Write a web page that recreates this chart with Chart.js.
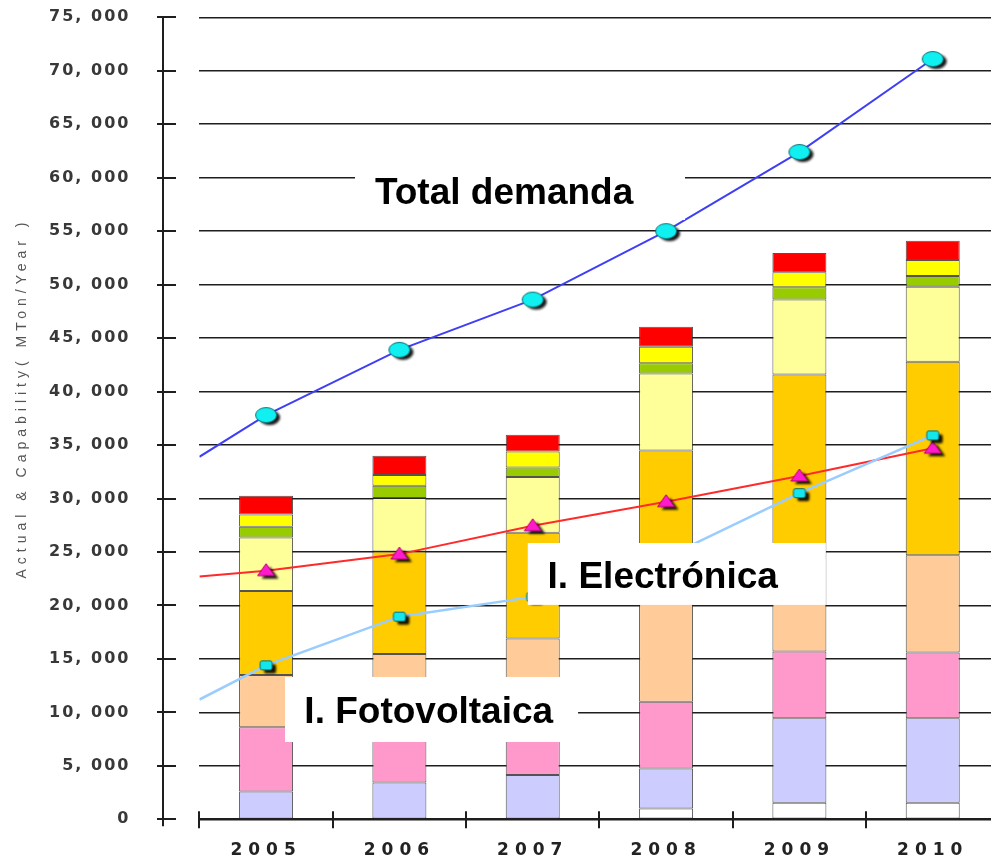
<!DOCTYPE html>
<html>
<head>
<meta charset="utf-8">
<script src="https://cdn.jsdelivr.net/npm/chart.js@4.4.0/dist/chart.umd.min.js"></script>
<style>
  html, body { margin: 0; padding: 0; background: #fff; overflow: hidden; }
  #wrap { width: 991px; height: 857px; overflow: hidden; position: relative; }
  canvas { display: block; }
</style>
</head>
<body>
<div id="wrap"><canvas id="chart" width="1010" height="857"></canvas></div>
<script>
// ---- data ---------------------------------------------------------------
const years = [2005, 2006, 2007, 2008, 2009, 2010];
const yTickValues = [0, 5000, 10000, 15000, 20000, 25000, 30000, 35000,
                     40000, 45000, 50000, 55000, 60000, 65000, 70000, 75000];

// stacked capability segments, bottom to top (MTon/Year)
const segWhite       = [0, 0, 0, 1000, 1550, 1550];
const segLavender    = [2600, 3450, 4150, 3750, 7900, 7900];
const segPink        = [6000, 5750, 5650, 6250, 6250, 6150];
const segPeach       = [4900, 6250, 7100, 12500, 8800, 9100];
const segGold        = [7850, 9600, 9900, 11000, 17100, 18100];
const segLightYellow = [5000, 5000, 5200, 7200, 7000, 7000];
const segGreen       = [1000, 1150, 900, 950, 1150, 1000];
const segYellow      = [1150, 1000, 1500, 1550, 1400, 1500];
const segRed         = [1750, 1800, 1550, 1850, 1800, 1800];

// demand lines; the first entry is where each line enters at the left edge
const lineYears    = [2004.5, 2005, 2006, 2007, 2008, 2009, 2010];
const totalDemand  = [33900, 37800, 43900, 48600, 55000, 62400, 71100];
const electronica  = [22700, 23250, 24800, 27450, 29700, 32100, 34700];
const fotovoltaica = [11200, 14400, 18950, 20800, 24500, 30500, 35900];

const seriesLabels = ['Total demanda', 'I. Electrónica', 'I. Fotovoltaica'];
const axisTitle = 'Actual & Capability( MTon/Year )';

// ---- labelled boxes (in axis units: years / MTon) -------------------------
const callouts = [
  { text: seriesLabels[0], box: [2005.667, 2008.142, 61190, 56050], at: [2006.785, 58500] },
  { text: seriesLabels[1], box: [2006.963, 2009.198, 25840, 20050], at: [2007.975, 22550] },
  { text: seriesLabels[2], box: [2005.142, 2007.340, 13310, 7230],  at: [2006.220, 9950] }
];

// ---- point markers ------------------------------------------------------
function markerCanvas(w, h, draw) {
  const c = document.createElement('canvas');
  c.width = w; c.height = h;
  draw(c.getContext('2d'), w / 2, h / 2);
  return c;
}
const markEllipse = markerCanvas(38, 30, (g, cx, cy) => {
  g.filter = 'blur(1px)';
  g.fillStyle = 'rgba(0,0,0,0.9)';
  g.beginPath(); g.ellipse(cx + 3.5, cy + 2.5, 10.5, 7.5, 0, 0, Math.PI * 2); g.fill();
  g.filter = 'none';
  g.fillStyle = '#10f0f0'; g.strokeStyle = '#0b6f74'; g.lineWidth = 1;
  g.beginPath(); g.ellipse(cx, cy, 10.5, 7.5, 0, 0, Math.PI * 2); g.fill(); g.stroke();
});
const markTriangle = markerCanvas(30, 26, (g, cx, cy) => {
  const tri = (dx, dy) => {
    g.beginPath();
    g.moveTo(cx + dx, cy - 7 + dy);
    g.lineTo(cx + 8.5 + dx, cy + 5 + dy);
    g.lineTo(cx - 8.5 + dx, cy + 5 + dy);
    g.closePath();
  };
  g.filter = 'blur(0.8px)';
  g.fillStyle = 'rgba(0,0,0,0.9)'; tri(4, 3); g.fill();
  g.filter = 'none';
  g.fillStyle = '#ff1acb'; g.strokeStyle = '#b0006a'; g.lineWidth = 1;
  tri(0, 0); g.fill(); g.stroke();
});
const markSquare = markerCanvas(26, 22, (g, cx, cy) => {
  g.filter = 'blur(0.8px)';
  g.fillStyle = 'rgba(0,0,0,0.9)';
  g.beginPath(); g.roundRect(cx - 6 + 4, cy - 4.5 + 3.5, 12, 9, 2); g.fill();
  g.filter = 'none';
  g.fillStyle = '#14e6ee'; g.strokeStyle = '#0b6f74'; g.lineWidth = 1;
  g.beginPath(); g.roundRect(cx - 6, cy - 4.5, 12, 9, 2); g.fill(); g.stroke();
});

// ---- helpers ------------------------------------------------------------
function barSet(label, values, color) {
  return {
    type: 'bar', label, order: 2,
    data: years.map((yr, i) => ({ x: yr, y: values[i] })),
    backgroundColor: color,
    borderColor: 'rgba(40,40,40,0.8)',
    borderWidth: 1,
    borderSkipped: false,
    barPercentage: 0.405,
    categoryPercentage: 1
  };
}
function lineSet(label, values, color, marker, width) {
  return {
    type: 'line', label, order: 1, stack: label,
    data: lineYears.map((yr, i) => ({ x: yr, y: values[i] })),
    borderColor: color,
    borderWidth: width,
    tension: 0,
    pointStyle: marker,
    pointRadius: (c) => (c.dataIndex === 0 ? 0 : 8),
    fill: false
  };
}
function fmtTick(v) {
  if (v === 0) return '0';
  return Math.floor(v / 1000) + ', ' + String(v % 1000).padStart(3, '0');
}

// ---- axis decorations, callouts and spacing of tick text ----------------
const decor = {
  id: 'decor',
  beforeDraw(chart) {
    chart.ctx.letterSpacing = '6px';           // year labels
  },
  beforeDatasetsDraw(chart) {
    chart.ctx.letterSpacing = '0px';
  },
  afterDatasetsDraw(chart) {
    const { ctx, scales: { x, y } } = chart;
    ctx.save();
    ctx.letterSpacing = '0px';
    callouts.forEach((a) => {
      const l = x.getPixelForValue(a.box[0]), r = x.getPixelForValue(a.box[1]);
      const t = y.getPixelForValue(a.box[2]), b = y.getPixelForValue(a.box[3]);
      ctx.fillStyle = '#ffffff';
      ctx.fillRect(l, t, r - l, b - t);
      ctx.fillStyle = '#000000';
      ctx.font = 'bold 37px "Liberation Sans", Arial, sans-serif';
      ctx.textAlign = 'center';
      ctx.textBaseline = 'middle';
      ctx.fillText(a.text, x.getPixelForValue(a.at[0]), y.getPixelForValue(a.at[1]));
    });
    ctx.restore();
    ctx.letterSpacing = '2px';                 // value labels drawn next
  },
  afterDraw(chart) {
    const { ctx, scales: { x, y } } = chart;
    ctx.save();
    ctx.letterSpacing = '0px';
    ctx.strokeStyle = '#1e1e1e';
    ctx.lineWidth = 2;
    // detached value axis with crossing ticks
    const ax = 163;
    ctx.beginPath();
    ctx.moveTo(ax, y.getPixelForValue(75000));
    ctx.lineTo(ax, y.getPixelForValue(0) + 7);
    ctx.stroke();
    yTickValues.forEach((v) => {
      const py = Math.round(y.getPixelForValue(v));
      ctx.beginPath(); ctx.moveTo(ax - 6, py); ctx.lineTo(ax + 13, py); ctx.stroke();
    });
    // category boundary ticks on the year axis
    const base = y.getPixelForValue(0);
    for (let i = 0; i <= years.length; i++) {
      const px = Math.round(x.getPixelForValue(years[0] - 0.5 + i));
      ctx.beginPath(); ctx.moveTo(px, base - 8); ctx.lineTo(px, base + 9); ctx.stroke();
    }
    // rotated axis title
    ctx.translate(22, 398);
    ctx.rotate(-Math.PI / 2);
    ctx.fillStyle = '#555';
    ctx.font = '14px "Liberation Sans", Arial, sans-serif';
    ctx.letterSpacing = '5px';
    ctx.textAlign = 'center';
    ctx.textBaseline = 'middle';
    ctx.fillText(axisTitle, 0, 0);
    ctx.restore();
  }
};

// ---- chart --------------------------------------------------------------
new Chart(document.getElementById('chart'), {
  data: {
    datasets: [
      barSet('white', segWhite, '#ffffff'),
      barSet('lavender', segLavender, '#ccccff'),
      barSet('pink', segPink, '#ff99cc'),
      barSet('peach', segPeach, '#ffcc99'),
      barSet('gold', segGold, '#ffcc00'),
      barSet('light yellow', segLightYellow, '#ffff99'),
      barSet('green', segGreen, '#99cc00'),
      barSet('yellow', segYellow, '#ffff00'),
      barSet('red', segRed, '#ff0000'),
      lineSet(seriesLabels[0], totalDemand, '#3f3ff5', markEllipse, 2),
      lineSet(seriesLabels[2], fotovoltaica, '#99ccff', markSquare, 2.5),
      lineSet(seriesLabels[1], electronica, '#ff2a2a', markTriangle, 2)
    ]
  },
  options: {
    responsive: false,
    animation: false,
    devicePixelRatio: 1,
    layout: { padding: { top: 17.3, right: 10.6, bottom: 0, left: 0 } },
    plugins: { legend: { display: false }, tooltip: { enabled: false } },
    scales: {
      x: {
        type: 'linear',
        offset: false,
        min: 2004.5, max: 2010.5,
        stacked: true,
        afterBuildTicks: (s) => { s.ticks = years.map((v) => ({ value: v })); },
        afterFit: (s) => { s.height = 37.7; s.paddingLeft = 0; s.paddingRight = 0; },
        grid: { display: false, drawTicks: false },
        border: { display: true, color: '#1e1e1e', width: 2 },
        ticks: {
          padding: 21,
          color: '#222',
          font: { family: '"DejaVu Sans", sans-serif', size: 17, weight: 'bold' },
          callback: (v) => String(v),
          maxRotation: 0
        }
      },
      y: {
        min: 0, max: 75000,
        stacked: true,
        afterBuildTicks: (s) => { s.ticks = yTickValues.map((v) => ({ value: v })); },
        afterFit: (s) => { s.width = 199.4; s.paddingTop = 0; s.paddingBottom = 0; },
        grid: { color: '#1e1e1e', lineWidth: 1.6, drawTicks: false },
        border: { display: false },
        ticks: {
          z: 1,
          padding: 69,
          color: '#383838',
          font: { family: '"DejaVu Sans", sans-serif', size: 16, weight: 'bold' },
          callback: fmtTick
        }
      }
    }
  },
  plugins: [decor]
});
</script>
</body>
</html>
